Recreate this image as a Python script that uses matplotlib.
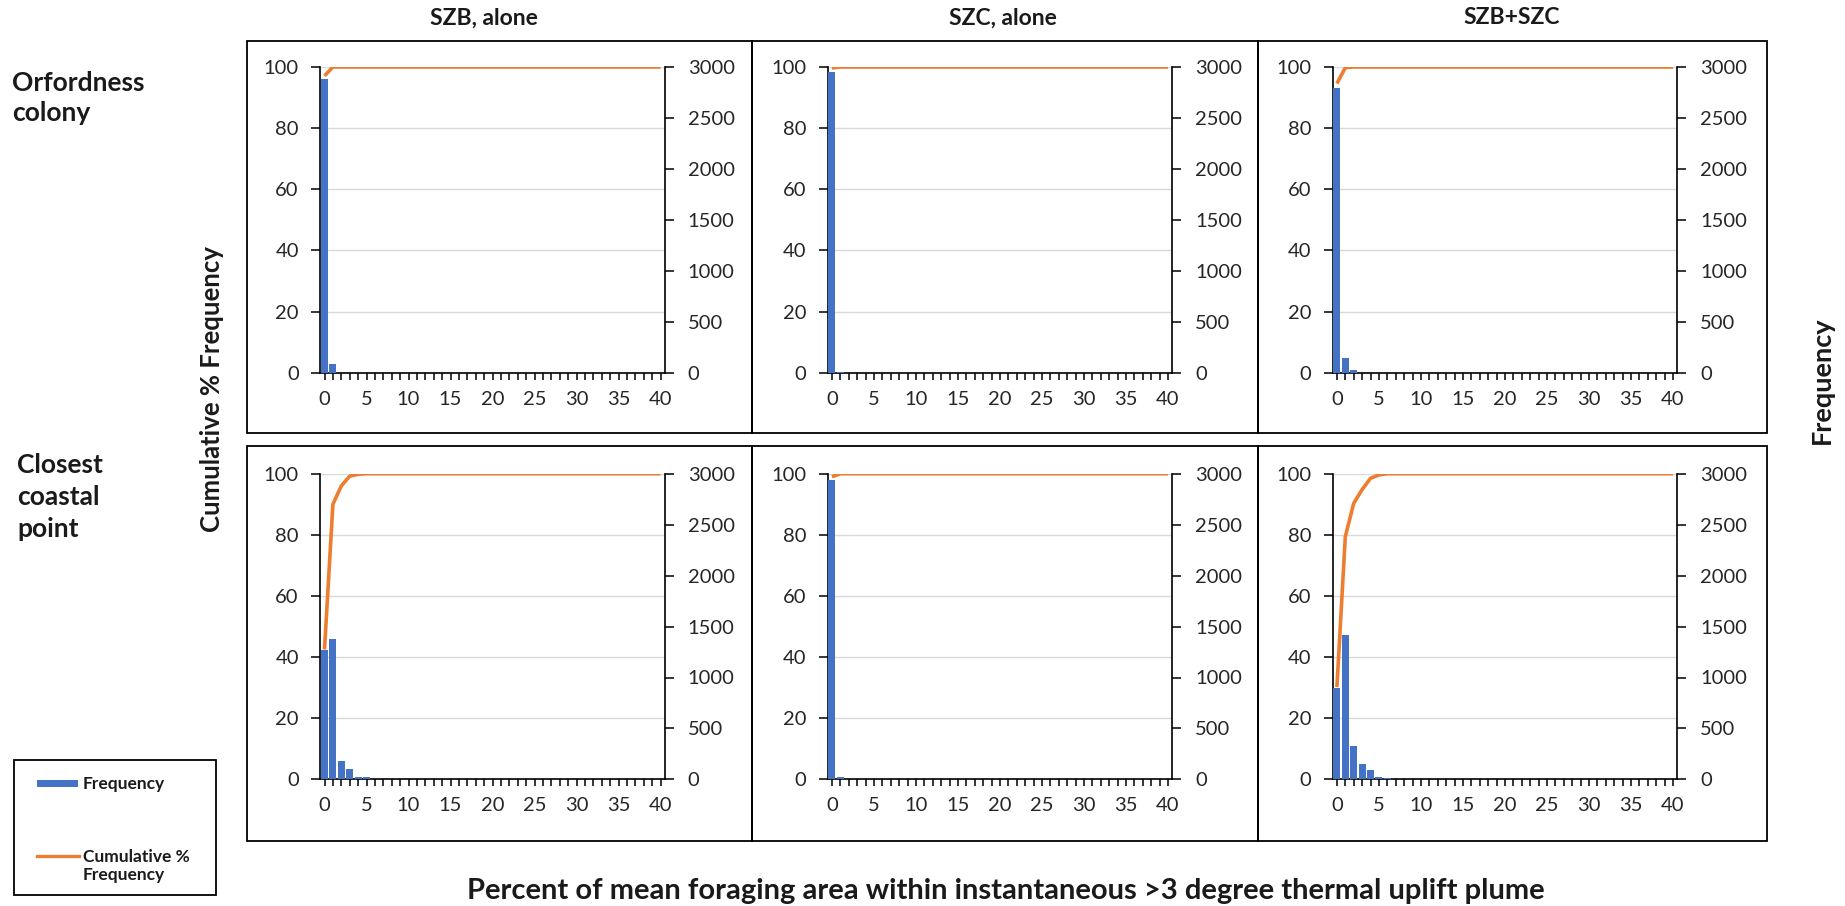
import matplotlib
matplotlib.use("Agg")
import matplotlib.pyplot as plt
from matplotlib.patches import Rectangle
from matplotlib.lines import Line2D
from matplotlib.ticker import MultipleLocator

plt.rcParams['font.family'] = ['Lato', 'DejaVu Sans']

# ---- data: histogram bins (percent of foraging area) ----
bins = list(range(41))

col_titles = ["SZB, alone", "SZC, alone", "SZB+SZC"]
row_titles = ["Orfordness\ncolony", "Closest\ncoastal\npoint"]

# Frequency counts per bin
freq_orf_szb = [2880, 85, 0, 0, 0, 0, 0, 0, 0, 0, 0, 0, 0, 0, 0, 0, 0, 0, 0, 0, 0,
                0, 0, 0, 0, 0, 0, 0, 0, 0, 0, 0, 0, 0, 0, 0, 0, 0, 0, 0, 0]
freq_orf_szc = [2955, 10, 0, 0, 0, 0, 0, 0, 0, 0, 0, 0, 0, 0, 0, 0, 0, 0, 0, 0, 0,
                0, 0, 0, 0, 0, 0, 0, 0, 0, 0, 0, 0, 0, 0, 0, 0, 0, 0, 0, 0]
freq_orf_both = [2797, 141, 26, 0, 0, 0, 0, 0, 0, 0, 0, 0, 0, 0, 0, 0, 0, 0, 0, 0, 0,
                 0, 0, 0, 0, 0, 0, 0, 0, 0, 0, 0, 0, 0, 0, 0, 0, 0, 0, 0, 0]
freq_ccp_szb = [1270, 1380, 180, 102, 20, 20, 0, 0, 0, 0, 0, 0, 0, 0, 0, 0, 0, 0, 0, 0, 0,
                0, 0, 0, 0, 0, 0, 0, 0, 0, 0, 0, 0, 0, 0, 0, 0, 0, 0, 0, 0]
freq_ccp_szc = [2937, 20, 0, 0, 0, 0, 0, 0, 0, 0, 0, 0, 0, 0, 0, 0, 0, 0, 0, 0, 0,
                0, 0, 0, 0, 0, 0, 0, 0, 0, 0, 0, 0, 0, 0, 0, 0, 0, 0, 0, 0]
freq_ccp_both = [893, 1416, 325, 152, 96, 20, 18, 0, 0, 0, 0, 0, 0, 0, 0, 0, 0, 0, 0, 0, 0,
                 0, 0, 0, 0, 0, 0, 0, 0, 0, 0, 0, 0, 0, 0, 0, 0, 0, 0, 0, 0]

# Cumulative % frequency per bin
cum_orf_szb = [97.1, 100, 100, 100, 100, 100, 100, 100, 100, 100, 100, 100, 100, 100,
               100, 100, 100, 100, 100, 100, 100, 100, 100, 100, 100, 100, 100, 100,
               100, 100, 100, 100, 100, 100, 100, 100, 100, 100, 100, 100, 100]
cum_orf_szc = [99.7, 100, 100, 100, 100, 100, 100, 100, 100, 100, 100, 100, 100, 100,
               100, 100, 100, 100, 100, 100, 100, 100, 100, 100, 100, 100, 100, 100,
               100, 100, 100, 100, 100, 100, 100, 100, 100, 100, 100, 100, 100]
cum_orf_both = [94.6, 99.8, 100, 100, 100, 100, 100, 100, 100, 100, 100, 100, 100, 100,
                100, 100, 100, 100, 100, 100, 100, 100, 100, 100, 100, 100, 100, 100,
                100, 100, 100, 100, 100, 100, 100, 100, 100, 100, 100, 100, 100]
cum_ccp_szb = [42.5, 90.0, 96.0, 99.2, 99.8, 100, 100, 100, 100, 100, 100, 100, 100, 100,
               100, 100, 100, 100, 100, 100, 100, 100, 100, 100, 100, 100, 100, 100,
               100, 100, 100, 100, 100, 100, 100, 100, 100, 100, 100, 100, 100]
cum_ccp_szc = [99.0, 100, 100, 100, 100, 100, 100, 100, 100, 100, 100, 100, 100, 100,
               100, 100, 100, 100, 100, 100, 100, 100, 100, 100, 100, 100, 100, 100,
               100, 100, 100, 100, 100, 100, 100, 100, 100, 100, 100, 100, 100]
cum_ccp_both = [30.2, 79.4, 90.3, 94.8, 98.5, 99.6, 100, 100, 100, 100, 100, 100, 100, 100,
                100, 100, 100, 100, 100, 100, 100, 100, 100, 100, 100, 100, 100, 100,
                100, 100, 100, 100, 100, 100, 100, 100, 100, 100, 100, 100, 100]

panels = [
    [(freq_orf_szb, cum_orf_szb), (freq_orf_szc, cum_orf_szc), (freq_orf_both, cum_orf_both)],
    [(freq_ccp_szb, cum_ccp_szb), (freq_ccp_szc, cum_ccp_szc), (freq_ccp_both, cum_ccp_both)],
]

# ---- styling ----
BAR_COLOR = '#4472C4'
LINE_COLOR = '#ED7D31'
GRID_COLOR = '#D9D9D9'
TICK_COLOR = '#262626'
TEXT_COLOR = '#1a1a1a'

W, H = 1845, 906
fig = plt.figure(figsize=(W / 100, H / 100), dpi=100)
fig.patch.set_facecolor('white')


def fx(x):
    return x / W


def fy(y):
    return 1 - y / H


col_left = [320.3, 827.7, 1332.7]
plot_w = 344.5
row_top = [67.0, 473.7]
plot_h = 305.7

col_edges = [247, 752, 1258, 1767]
row_edges = [(41, 433), (446, 841)]

# panel frames
for (y0, y1) in row_edges:
    for c in range(3):
        x0, x1 = col_edges[c], col_edges[c + 1]
        fig.add_artist(Rectangle((fx(x0), fy(y1)), fx(x1) - fx(x0), fy(y0) - fy(y1),
                                 transform=fig.transFigure, fill=False,
                                 edgecolor='black', linewidth=1.3))

for r in range(2):
    for c in range(3):
        freq, cum = panels[r][c]
        rect = [fx(col_left[c]), fy(row_top[r] + plot_h), plot_w / W, plot_h / H]
        ax = fig.add_axes(rect)
        ax.set_facecolor('none')
        ax.set_xlim(-0.5, 40.5)
        ax.set_ylim(0, 100)
        ax.yaxis.set_major_locator(MultipleLocator(20))
        ax.xaxis.set_major_locator(MultipleLocator(5))
        ax.xaxis.set_minor_locator(MultipleLocator(1))
        ax.grid(axis='y', color=GRID_COLOR, linewidth=1.0)
        ax.set_axisbelow(True)
        for s in ['top', 'right']:
            ax.spines[s].set_visible(False)
        for s in ['left', 'bottom']:
            ax.spines[s].set_color('black')
            ax.spines[s].set_linewidth(1.2)
        ax.tick_params(axis='y', which='major', direction='out', length=6.5, width=1.1,
                       color='black', labelsize=14.5, labelcolor=TICK_COLOR, pad=9)
        ax.tick_params(axis='x', which='both', direction='out', length=5, width=1.1,
                       color='black', labelsize=14.5, labelcolor=TICK_COLOR, pad=8)

        # frequency bars on the secondary axis
        ax2 = ax.twinx()
        ax2.set_ylim(0, 3000)
        ax2.yaxis.set_major_locator(MultipleLocator(500))
        ax2.bar(bins, freq, width=0.85, color=BAR_COLOR, linewidth=0, zorder=2)
        for s in ['top', 'left', 'bottom']:
            ax2.spines[s].set_visible(False)
        ax2.spines['right'].set_color('black')
        ax2.spines['right'].set_linewidth(1.2)
        ax2.tick_params(axis='y', direction='out', length=6.5, width=1.1, color='black',
                        labelsize=14.5, labelcolor=TICK_COLOR, pad=10)

        # cumulative percentage line on top
        ax3 = ax.twinx()
        ax3.set_ylim(0, 100)
        ax3.plot(bins, cum, color=LINE_COLOR, linewidth=2.6, solid_joinstyle='round',
                 solid_capstyle='butt')
        ax3.axis('off')
        ax.set_xlim(-0.5, 40.5)

# column titles
col_title_x = [484, 1003, 1512]
for c, t in enumerate(col_titles):
    fig.text(fx(col_title_x[c]), fy(18), t, ha='center', va='center',
             fontsize=16.5, fontweight='bold', color=TEXT_COLOR)

# row titles
fig.text(fx(12), fy(98), row_titles[0], ha='left', va='center', fontsize=19,
         fontweight='bold', color=TEXT_COLOR, linespacing=1.32)
fig.text(fx(17), fy(497), row_titles[1], ha='left', va='center', fontsize=19,
         fontweight='bold', color=TEXT_COLOR, linespacing=1.4)

# axis titles
fig.text(fx(212), fy(389), "Cumulative % Frequency", rotation=90, ha='center', va='center',
         fontsize=18.5, fontweight='bold', color=TEXT_COLOR)
fig.text(fx(1822), fy(380), "Frequency", rotation=90, ha='center', va='center',
         fontsize=19.5, fontweight='bold', color=TEXT_COLOR)
fig.text(fx(1006), fy(891),
         "Percent of mean foraging area within instantaneous >3 degree thermal uplift plume",
         ha='center', va='center', fontsize=21, fontweight='bold', color=TEXT_COLOR)

# legend
fig.add_artist(Rectangle((fx(14), fy(895)), fx(216) - fx(14), fy(760) - fy(895),
                         transform=fig.transFigure, fill=False, edgecolor='black',
                         linewidth=1.3))
fig.add_artist(Rectangle((fx(37), fy(787)), fx(78) - fx(37), fy(780) - fy(787),
                         transform=fig.transFigure, facecolor=BAR_COLOR, edgecolor='none'))
fig.add_artist(Line2D([fx(37), fx(79)], [fy(856), fy(856)], transform=fig.transFigure,
                      color=LINE_COLOR, linewidth=2.4))
fig.text(fx(83), fy(784), "Frequency", ha='left', va='center', fontsize=12.5,
         fontweight='bold', color=TEXT_COLOR)
fig.text(fx(83), fy(866), "Cumulative %\nFrequency", ha='left', va='center', fontsize=12.5,
         fontweight='bold', color=TEXT_COLOR, linespacing=1.2)

fig.savefig("out.png", dpi=100, facecolor='white')
